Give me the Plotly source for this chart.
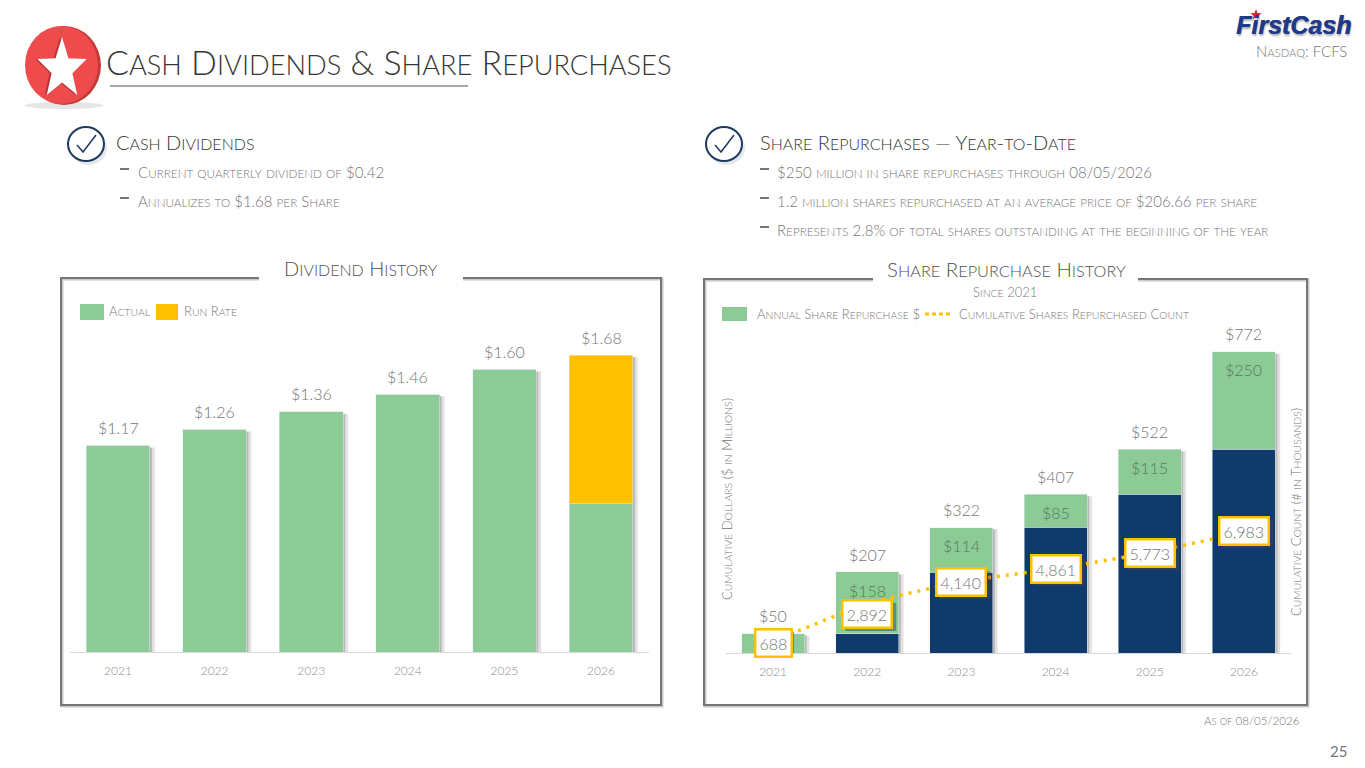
import math
import plotly.graph_objects as go

W, H = 1365, 768

# === Data ===
YEARS = ["2021", "2022", "2023", "2024", "2025", "2026"]

DIV_ACTUAL = [1.17, 1.26, 1.36, 1.46, 1.60, 0.84]
DIV_RUN_RATE = [0, 0, 0, 0, 0, 0.84]
DIV_LABELS = ["$1.17", "$1.26", "$1.36", "$1.46", "$1.60", "$1.68"]

REP_PRIOR = [0, 50, 207, 322, 407, 522]
REP_ANNUAL = [50, 158, 114, 85, 115, 250]
REP_TOTAL = [50, 207, 322, 407, 522, 772]
REP_TOTAL_LABELS = ["$50", "$207", "$322", "$407", "$522", "$772"]
REP_ANNUAL_LABELS = [None, "$158", "$114", "$85", "$115", "$250"]
SHARE_COUNT = [688, 2892, 4140, 4861, 5773, 6983]
COUNT_LABEL_SHIFT = [-2, -11, -1, 0, 0, 1]

BULLETS_LEFT = ["Current quarterly dividend of $0.42", "Annualizes to $1.68 per Share"]
BULLETS_RIGHT = [
    "$250 million in share repurchases through 08/05/2026",
    "1.2 million shares repurchased at an average price of $206.66 per share",
    "Represents 2.8% of total shares outstanding at the beginning of the year",
]

GREEN = "#8CCB96"
GOLD = "#FFC000"
NAVY = "#0F3A6B"
DARK = "#363636"
GREY = "#767676"
FONT = "Lato"


def px(x):
    return x / W


def py(y):
    return 1 - y / H


# small caps by hand: capitals full size, the rest a bit smaller
def sc(text, size, ratio=0.8):
    out = ""
    small = round(size * ratio, 1)
    for ch in text:
        if ch.islower():
            out += f'<span style="font-size:{small}px">{ch.upper()}</span>'
        else:
            out += ch
    return out


annotations = []
shapes = []


def label(x, y, text, size, color=GREY, anchor="left", angle=0, weight=300):
    # annotations carry a small padding, take it back so x is the ink edge
    if anchor == "left":
        x -= 2
    elif anchor == "right":
        x += 2
    annotations.append(dict(
        x=px(x), y=py(y), xref="paper", yref="paper", text=text, showarrow=False,
        xanchor=anchor, yanchor="middle", textangle=angle,
        font=dict(family=FONT, size=size, color=color, weight=weight),
    ))


def rect(x0, y0, x1, y1, color):
    shapes.append(dict(type="rect", xref="paper", yref="paper", x0=px(x0), x1=px(x1),
                       y0=py(y0), y1=py(y1), fillcolor=color, line_width=0))


def polyline(points, color, width):
    d = "M " + " L ".join(f"{px(x):.5f},{py(y):.5f}" for x, y in points)
    shapes.append(dict(type="path", xref="paper", yref="paper", path=d,
                       line=dict(color=color, width=width)))


def circle(x0, y0, x1, y1, fill, line_color=None, line_width=0):
    shapes.append(dict(type="circle", xref="paper", yref="paper", x0=px(x0), x1=px(x1),
                       y0=py(y0), y1=py(y1), fillcolor=fill,
                       line=dict(color=line_color or fill, width=line_width)))


def star(cx, cy, rx, ry, color):
    pts = []
    for k in range(10):
        f = 1 if k % 2 == 0 else 0.42
        a = math.radians(-90 + 36 * k)
        pts.append((cx + rx * f * math.cos(a), cy + ry * f * math.sin(a)))
    shapes.append(dict(type="path", xref="paper", yref="paper", fillcolor=color, line_width=0,
                       path="M " + " L ".join(f"{px(x):.5f},{py(y):.5f}" for x, y in pts) + " Z"))


def check_icon(cx, cy):
    circle(cx - 16, cy - 14, cx + 21, cy + 21, "#E4E7EC")
    circle(cx - 18, cy - 17, cx + 18, cy + 17, "white", "#1F3A5F", 2)
    polyline([(cx - 9, cy + 1), (cx - 3, cy + 8), (cx + 10, cy - 9)], "#1F3A5F", 1.5)


# === Figure ===
fig = go.Figure()

# dividend history
fig.add_trace(go.Bar(x=YEARS, y=DIV_ACTUAL, marker_color=GREEN, width=0.66, xaxis="x", yaxis="y"))
fig.add_trace(go.Bar(x=YEARS, y=DIV_RUN_RATE, marker_color=GOLD, width=0.66, xaxis="x", yaxis="y"))

# share repurchases
fig.add_trace(go.Bar(x=YEARS, y=REP_PRIOR, marker_color=NAVY, width=0.67, xaxis="x2", yaxis="y2"))
fig.add_trace(go.Bar(x=YEARS, y=REP_ANNUAL, marker_color=GREEN, width=0.67, xaxis="x2", yaxis="y2"))
fig.add_trace(go.Scatter(x=YEARS, y=SHARE_COUNT, mode="lines", xaxis="x2", yaxis="y3",
                         line=dict(color=GOLD, width=3.5, dash="3px,6px")))

# bar shadows, two layers so the edge is softer
for i, (a, b) in enumerate(zip(DIV_ACTUAL, DIV_RUN_RATE)):
    for extra, alpha in [(0.05, 0.22), (0.02, 0.4)]:
        shapes.append(dict(type="rect", xref="x", yref="y", x0=i - 0.31, x1=i + 0.33 + extra,
                           y0=0, y1=a + b - 0.012, fillcolor=f"rgba(120,120,120,{alpha})",
                           line_width=0, layer="below"))
for i, t in enumerate(REP_TOTAL):
    for extra, alpha in [(0.05, 0.22), (0.02, 0.4)]:
        shapes.append(dict(type="rect", xref="x2", yref="y2", x0=i - 0.31, x1=i + 0.335 + extra,
                           y0=0, y1=t - 5, fillcolor=f"rgba(120,120,120,{alpha})",
                           line_width=0, layer="below"))

# value labels
for i, t in enumerate(DIV_LABELS):
    annotations.append(dict(x=i, y=DIV_ACTUAL[i] + DIV_RUN_RATE[i], xref="x", yref="y", text=t, showarrow=False,
                            yanchor="middle", yshift=18, font=dict(family=FONT, size=16, color=GREY, weight=300)))
for i, t in enumerate(REP_TOTAL_LABELS):
    annotations.append(dict(x=i, y=REP_TOTAL[i], xref="x2", yref="y2", text=t, showarrow=False,
                            yanchor="middle", yshift=18, font=dict(family=FONT, size=16, color=GREY, weight=300)))
for i, t in enumerate(REP_ANNUAL_LABELS):
    if t:
        annotations.append(dict(x=i, y=REP_TOTAL[i], xref="x2", yref="y2", text=t, showarrow=False,
                                yanchor="middle", yshift=-18, font=dict(family=FONT, size=16, color="#557A60", weight=300)))
for i, c in enumerate(SHARE_COUNT):
    half = 17 if c < 1000 else 25
    shift = COUNT_LABEL_SHIFT[i]
    # drop shadow of the label box
    shapes.append(dict(type="rect", xref="x2", yref="y3", xsizemode="pixel", ysizemode="pixel",
                       xanchor=i, yanchor=c, x0=-half + 3, x1=half + 4, y0=shift - 17, y1=shift + 11,
                       fillcolor="rgba(70,70,70,0.5)", line_width=0))
    annotations.append(dict(x=i, y=c, xref="x2", yref="y3", text=f"{c:,}", showarrow=False, yanchor="middle",
                            yshift=shift, bgcolor="white", bordercolor=GOLD, borderwidth=2.5, borderpad=3,
                            font=dict(family=FONT, size=16, color=GREY, weight=300)))

# === Panels ===
polyline([(259, 279), (62, 279), (62, 706), (662, 706), (662, 279), (463, 279)], "#C8C8C8", 3)
polyline([(259, 278), (61, 278), (61, 705), (661, 705), (661, 278), (463, 278)], GREY, 2)
polyline([(873, 280), (705, 280), (705, 706), (1308, 706), (1308, 280), (1138, 280)], "#C8C8C8", 3)
polyline([(873, 279), (704, 279), (704, 705), (1307, 705), (1307, 279), (1138, 279)], GREY, 2)

# === Header ===
circle(24, 102, 104, 109, "#E6E6E6")
circle(27, 26, 101, 105, "#C23A3A")
circle(25, 26, 98, 104, "#EF4A4C")
star(60, 69, 26, 32, "#B93234")
star(62, 69, 26, 32, "white")

label(106, 61, sc("Cash Dividends & Share Repurchases", 34), 34, DARK)
polyline([(110, 86), (468, 86)], "#8A8A8A", 1.5)

# logo
annotations.append(dict(x=px(1353), y=py(25), xref="paper", yref="paper", text="<b><i>FirstCash</i></b>",
                        showarrow=False, xanchor="right", yanchor="middle",
                        font=dict(family="Liberation Sans", size=25, color="#1F3A8A",
                                  shadow="0.6px 0 0 #1F3A8A, 1px 2px 2px #B0B0B0")))
star(1256, 15, 6, 6, "#D8232A")
label(1347, 51, sc("Nasdaq: FCFS", 15, 0.75), 15, GREY, anchor="right")

# === Bullets ===
check_icon(86, 144)
check_icon(724, 144)
label(116, 142, sc("Cash Dividends", 20), 20, DARK)
label(760, 142, sc("Share Repurchases — Year-to-Date", 20), 20, DARK)
for i, t in enumerate(BULLETS_LEFT):
    y = 172 + 29 * i
    polyline([(120, y - 3), (129, y - 3)], GREY, 2)
    label(138, y, sc(t, 15, 0.78), 15)
for i, t in enumerate(BULLETS_RIGHT):
    y = 172 + 29 * i
    polyline([(760, y - 3), (769, y - 3)], GREY, 2)
    label(777, y, sc(t, 15, 0.78), 15)

# === Panel titles and legends ===
label(361, 268, sc("Dividend History", 20), 20, "#505050", anchor="center")
label(1006, 269, sc("Share Repurchase History", 20.4), 20.4, "#505050", anchor="center")
label(1005, 292, sc("Since 2021", 13), 13, anchor="center")

rect(80, 304, 104, 320, GREEN)
label(109, 311, sc("Actual", 13), 13)
rect(156, 304, 178, 320, GOLD)
label(184, 311, sc("Run Rate", 13), 13)

rect(722, 307, 747, 321, GREEN)
label(757, 314, sc("Annual Share Repurchase $", 13), 13)
shapes.append(dict(type="line", xref="paper", yref="paper", x0=px(925), x1=px(952), y0=py(314), y1=py(314),
                   line=dict(color=GOLD, width=3, dash="4px,3px")))
label(959, 314, sc("Cumulative Shares Repurchased Count", 13), 13)

label(727, 499, sc("Cumulative Dollars ($ in Millions)", 13), 13, anchor="center", angle=-90)
label(1296, 512, sc("Cumulative Count (# in Thousands)", 13), 13, anchor="center", angle=-90)

label(1300, 720, sc("As of", 11.6) + " 08/05/2026", 11.6, anchor="right")
label(1347, 751, "25", 15, anchor="right", weight=400)

# === Layout ===
tickfont = dict(family=FONT, size=12, color="#8C8C8C", weight=300)
fig.update_layout(
    width=W, height=H,
    margin=dict(l=0, r=0, t=0, b=0),
    paper_bgcolor="white", plot_bgcolor="white",
    barmode="stack", showlegend=False,
    font=dict(family=FONT, color=GREY),
    xaxis=dict(domain=[px(69.7), px(649.3)], anchor="y", tickfont=tickfont, showgrid=False,
               showline=True, linecolor="#D9D9D9", ticks="", ticklabelstandoff=8),
    yaxis=dict(domain=[py(652), py(334)], anchor="x", range=[0, 1.8], visible=False),
    xaxis2=dict(domain=[px(726), px(1291)], anchor="y2", tickfont=tickfont, showgrid=False,
                showline=True, linecolor="#D9D9D9", ticks="", ticklabelstandoff=8),
    yaxis2=dict(domain=[py(653), py(332)], anchor="x2", range=[0, 823], visible=False),
    yaxis3=dict(domain=[py(653), py(332)], anchor="x2", overlaying="y2", side="right", range=[0, 18523], visible=False),
    shapes=shapes,
    annotations=annotations,
)

fig.write_html("out.html", config={"displayModeBar": False},
               post_script="document.body.style.margin='0';document.body.style.overflow='hidden';")
